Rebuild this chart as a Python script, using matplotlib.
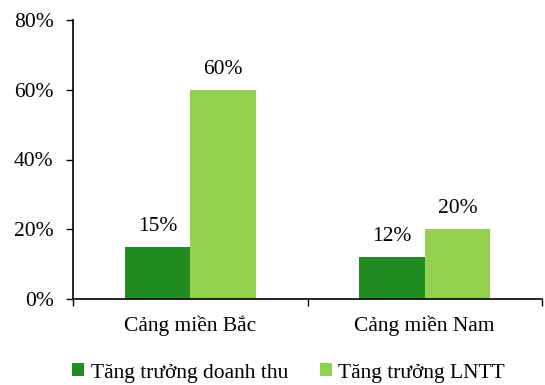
import matplotlib.pyplot as plt
import numpy as np

plt.rcParams['font.family'] = ['Liberation Serif', 'DejaVu Serif']

categories = ['Cảng miền Bắc', 'Cảng miền Nam']
revenue_growth = [15, 12]
profit_growth = [60, 20]
series_names = ['Tăng trưởng doanh thu', 'Tăng trưởng LNTT']
colors = ['#228B22', '#92D050']

fs = 15.5
fig = plt.figure(figsize=(5.45, 3.85), dpi=100)
ax = fig.add_axes([73 / 545, 1 - 299 / 385, (542 - 73) / 545, (299 - 20) / 385])

x = np.arange(len(categories))
w = 0.28
b1 = ax.bar(x - w / 2, revenue_growth, w, color=colors[0], label=series_names[0])
b2 = ax.bar(x + w / 2, profit_growth, w, color=colors[1], label=series_names[1])

for bars, vals in [(b1, revenue_growth), (b2, profit_growth)]:
    for r, v in zip(bars, vals):
        ax.annotate(f'{v}%', (r.get_x() + r.get_width() / 2, v), xytext=(0, 8),
                    textcoords='offset points', ha='center', va='bottom', fontsize=fs)

ax.set_xlim(-0.5, 1.5)
ax.set_ylim(0, 80)
ax.set_yticks([0, 20, 40, 60, 80])
ax.set_yticklabels([f'{t}%' for t in [0, 20, 40, 60, 80]], fontsize=fs)
ax.set_xticks(x)
ax.set_xticklabels(categories, fontsize=fs)
ax.tick_params(axis='x', length=0, pad=12)
ax.set_xticks([-0.5, 0.5, 1.5], minor=True)
ax.tick_params(axis='x', which='minor', length=5, direction='out', width=1)
ax.tick_params(axis='y', length=5, direction='out', width=1, pad=9)

for s in ['top', 'right']:
    ax.spines[s].set_visible(False)
for s in ['left', 'bottom']:
    ax.spines[s].set_linewidth(1.2)

ax.legend(loc='upper left', bbox_to_anchor=(-0.02, -0.2), ncol=2, frameon=False,
          fontsize=fs, handlelength=0.55, handleheight=0.55, handletextpad=0.3,
          columnspacing=1.5, borderaxespad=0)

fig.savefig('out.png', dpi=100)
